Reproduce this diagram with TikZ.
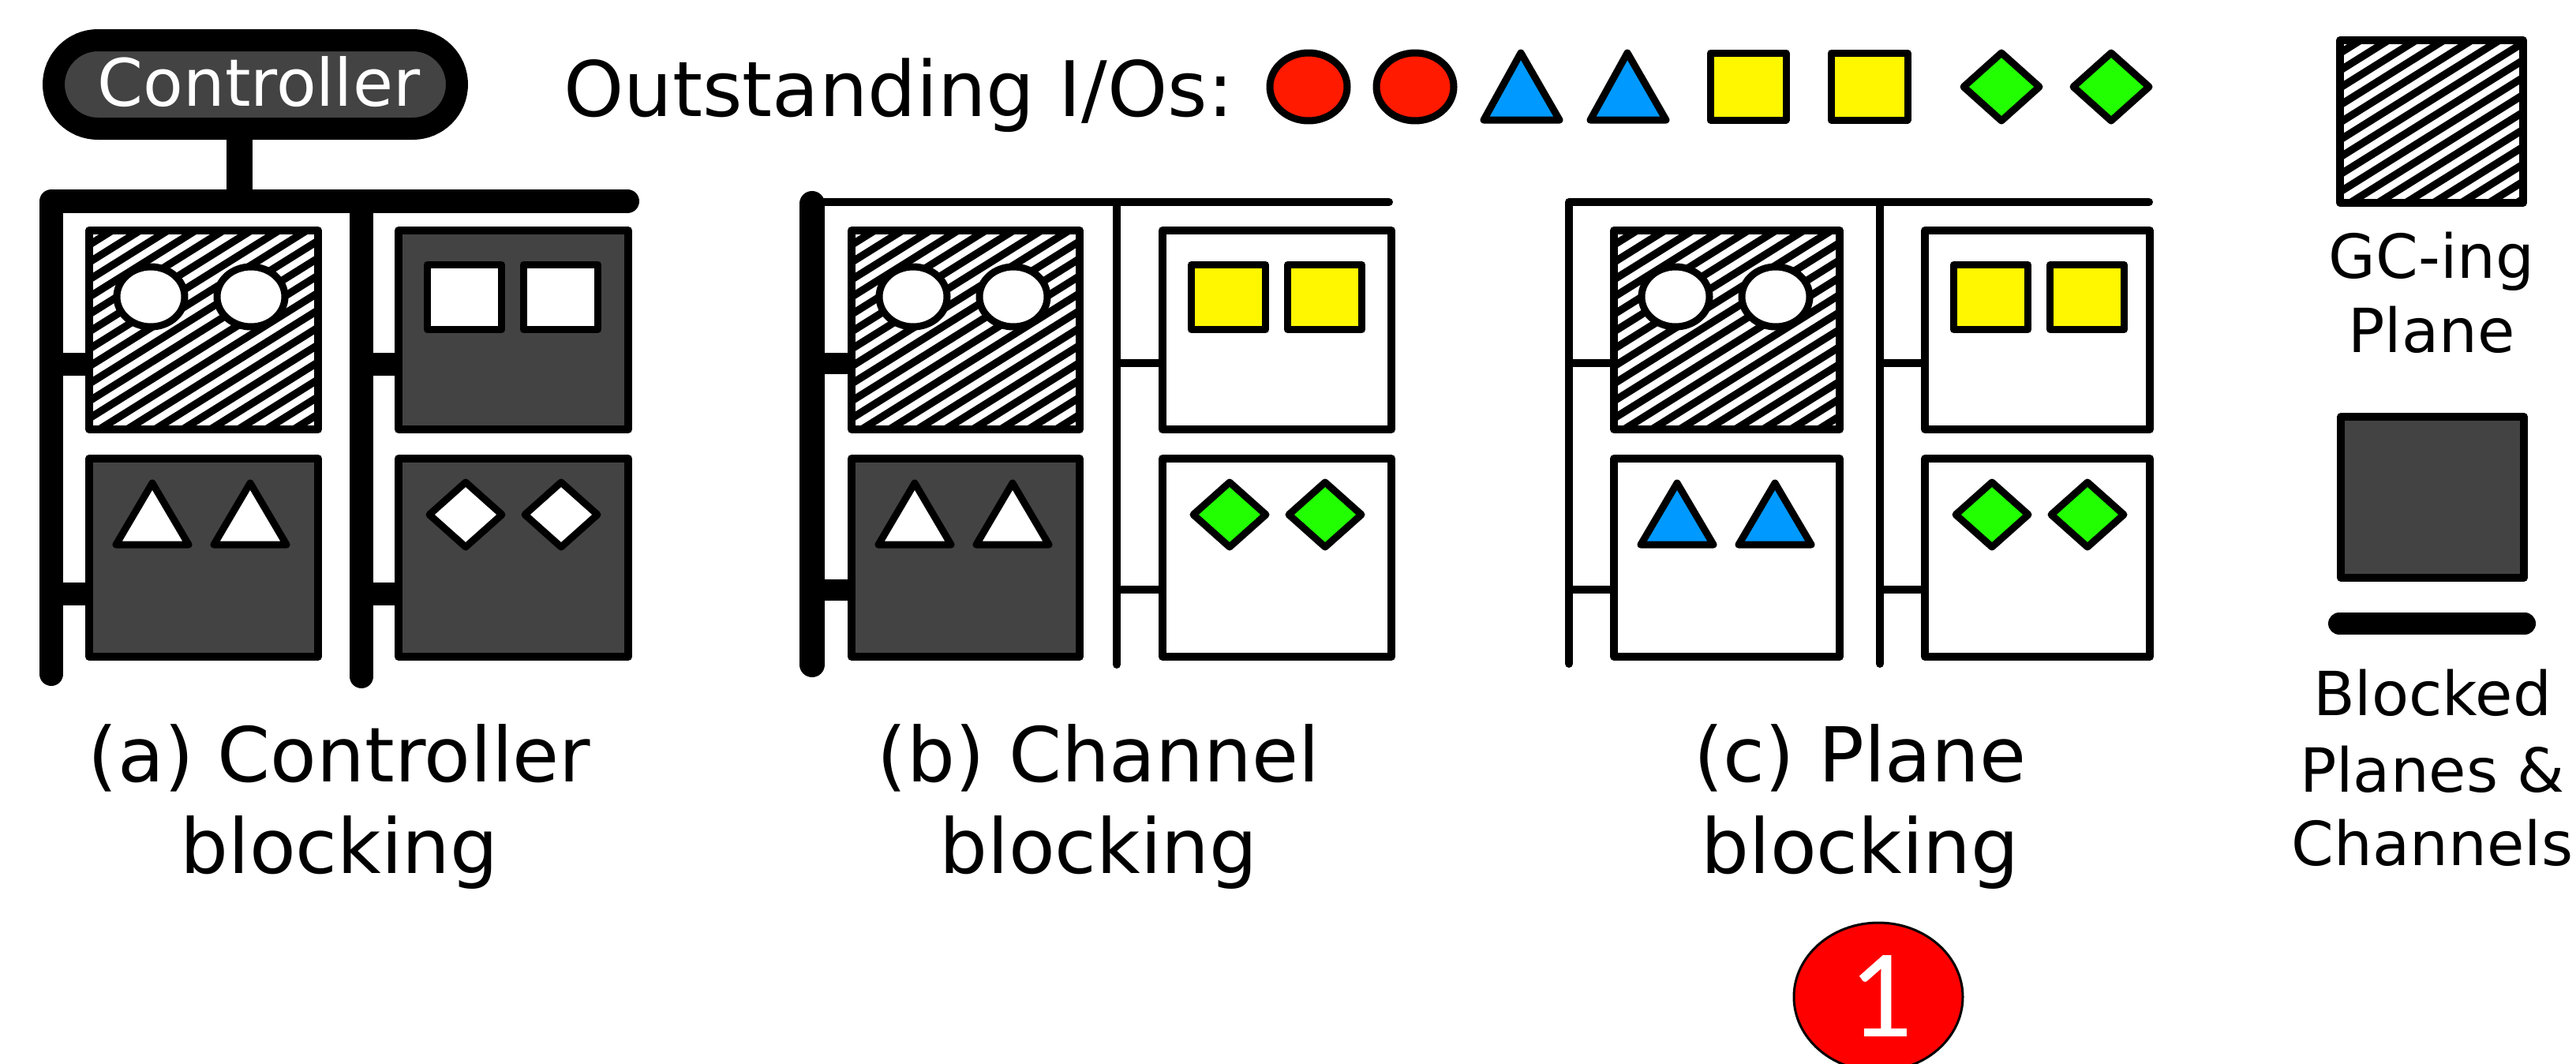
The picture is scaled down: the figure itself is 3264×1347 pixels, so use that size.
\documentclass[tikz,border=0pt]{standalone}
\usepackage{fontspec}
\setmainfont{DejaVu Sans}
\newfontfamily\badgefont{Carlito}
\definecolor{plgray}{HTML}{434343}
\definecolor{iored}{HTML}{FF1A00}
\definecolor{ioblue}{HTML}{0099FF}
\definecolor{ioyellow}{HTML}{FFF700}
\definecolor{iogreen}{HTML}{22FF00}
\definecolor{badgered}{HTML}{FF0000}
\tikzset{
  boxline/.style={line width=10pt, line join=round, draw=black},
  icon/.style={line width=9pt, line join=round, draw=black},
  thickbus/.style={line width=30pt, line cap=round, line join=round},
  thinbus/.style={line width=10pt, line cap=round, line join=round},
  captxt/.style={font=\fontsize{96}{116}\selectfont, anchor=base, inner sep=0pt},
  legtxt/.style={font=\fontsize{77}{94}\selectfont, anchor=base, inner sep=0pt},
}
\newcommand\hatchrect[4]{%
  \begin{scope}
    \clip (#1,#2) rectangle (#3,#4);
    \fill[white] (#1,#2) rectangle (#3,#4);
    \foreach \k in {-16,...,10}{\draw[line width=9.5pt] ({#1+\k*35.2},{#4+8}) -- ++(700,-437);}
  \end{scope}
  \draw[boxline] (#1,#2) rectangle (#3,#4);}
\newcommand\plainrect[5]{\draw[boxline, fill=#5] (#1,#2) rectangle (#3,#4);}
\newcommand\twocircles[2]{%
  \draw[icon, fill=#2] ({#1+83},376) ellipse [x radius=43pt, y radius=38pt];
  \draw[icon, fill=#2] ({#1+210},376) ellipse [x radius=43pt, y radius=38pt];}
\newcommand\twosquares[2]{%
  \draw[icon, fill=#2] ({#1+41.5},335.5) rectangle ({#1+135.5},417.5);
  \draw[icon, fill=#2] ({#1+163.5},335.5) rectangle ({#1+257.5},417.5);}
\newcommand\twotris[2]{%
  \draw[icon, fill=#2] ({#1+85},612) -- ({#1+131},690) -- ({#1+39},690) -- cycle;
  \draw[icon, fill=#2] ({#1+209},612) -- ({#1+255},690) -- ({#1+163},690) -- cycle;}
\newcommand\twodiamonds[2]{%
  \draw[icon, fill=#2] ({#1+90},611) -- ({#1+136},652) -- ({#1+90},693) -- ({#1+44},652) -- cycle;
  \draw[icon, fill=#2] ({#1+211},611) -- ({#1+257},652) -- ({#1+211},693) -- ({#1+165},652) -- cycle;}
\begin{document}
\begin{tikzpicture}[x=1pt, y=-1pt]
\useasboundingbox[fill=white] (0,0) rectangle (3264,1347);

% ---------------- (a) Controller blocking ----------------
\draw[line width=33pt] (303,150) -- (303,256);
\draw[line width=28pt, fill=plgray, rounded corners=56pt] (68,51) rectangle (579,163);
\node[font=\fontsize{83}{90}\selectfont, text=white, anchor=base, inner sep=0pt] (ctrl) at (328,134) {Controller};
\draw[thickbus] (65,854) -- (65,255) -- (795,255);
\draw[thickbus] (458,255) -- (458,857);
\draw[line width=29pt] (65,461) -- (113,461);
\draw[line width=29pt] (65,752) -- (113,752);
\draw[line width=29pt] (458,461) -- (505,461);
\draw[line width=29pt] (458,752) -- (505,752);
\hatchrect{113}{292}{403}{544}
\plainrect{505}{292}{796}{544}{plgray}
\plainrect{113}{581}{403}{832}{plgray}
\plainrect{505}{581}{796}{832}{plgray}
\twocircles{108}{white}
\twosquares{500}{white}
\twotris{108}{white}
\twodiamonds{500}{white}

% ---------------- (b) Channel blocking ----------------
\draw[thinbus] (1029,256) -- (1760,256);
\draw[thinbus] (1415,256) -- (1415,842);
\draw[line width=32pt, line cap=round] (1029,258) -- (1029,842);
\draw[line width=27pt] (1029,460) -- (1079,460);
\draw[line width=27pt] (1029,747) -- (1079,747);
\draw[line width=10pt] (1415,460) -- (1473,460);
\draw[line width=10pt] (1415,747) -- (1473,747);
\hatchrect{1079}{292}{1368}{544}
\plainrect{1473}{292}{1763}{544}{white}
\plainrect{1079}{581}{1368}{832}{plgray}
\plainrect{1473}{581}{1763}{832}{white}
\twocircles{1074}{white}
\twosquares{1468}{ioyellow}
\twotris{1074}{white}
\twodiamonds{1468}{iogreen}

% ---------------- (c) Plane blocking ----------------
\draw[thinbus] (1988,841) -- (1988,256) -- (2723,256);
\draw[thinbus] (2382,256) -- (2382,841);
\draw[line width=10pt] (1988,460) -- (2045,460);
\draw[line width=10pt] (1988,747) -- (2045,747);
\draw[line width=10pt] (2382,460) -- (2439,460);
\draw[line width=10pt] (2382,747) -- (2439,747);
\hatchrect{2045}{292}{2331}{544}
\plainrect{2439}{292}{2724}{544}{white}
\plainrect{2045}{581}{2331}{832}{white}
\plainrect{2439}{581}{2724}{832}{white}
\twocircles{2040}{white}
\twosquares{2434}{ioyellow}
\twotris{2040}{ioblue}
\twodiamonds{2434}{iogreen}

% ---------------- captions ----------------
\node[captxt] (capa1) at (430,990) {(a) Controller};
\node[captxt] (capa2) at (430,1106) {blocking};
\node[captxt] (capb1) at (1392,990) {(b) Channel};
\node[captxt] (capb2) at (1392,1106) {blocking};
\node[captxt] (capc1) at (2357,990) {(c) Plane};
\node[captxt] (capc2) at (2357,1106) {blocking};

% ---------------- outstanding I/Os ----------------
\node[font=\fontsize{97}{116}\selectfont, anchor=base west, inner sep=0pt] (outst) at (714,147) {Outstanding I/Os:};
\draw[icon, fill=iored] (1658,110) ellipse [x radius=49pt, y radius=43pt];
\draw[icon, fill=iored] (1793,110) ellipse [x radius=49pt, y radius=43pt];
\draw[icon, fill=ioblue] (1927,67) -- (1976,152) -- (1880,152) -- cycle;
\draw[icon, fill=ioblue] (2062,67) -- (2111,152) -- (2015,152) -- cycle;
\draw[icon, fill=ioyellow] (2167,67) rectangle (2263,152);
\draw[icon, fill=ioyellow] (2320,67) rectangle (2417,152);
\draw[icon, fill=iogreen] (2536,67) -- (2584,110) -- (2536,153) -- (2488,110) -- cycle;
\draw[icon, fill=iogreen] (2675,67) -- (2723,110) -- (2675,153) -- (2627,110) -- cycle;

% ---------------- legend ----------------
\hatchrect{2965}{51}{3197}{257}
\node[legtxt] (lg1) at (3081,352) {GC-ing};
\node[legtxt] (lg2) at (3081,446) {Plane};
\plainrect{2966}{528}{3198}{732}{plgray}
\draw[line width=28pt, line cap=round] (2964,790) -- (3199,790);
\node[legtxt] (lb1) at (3082,906) {Blocked};
\node[legtxt] (lb2) at (3082,1003) {Planes \&};
\node[legtxt] (lb3) at (3082,1096) {Channels};

% ---------------- badge ----------------
\draw[line width=3pt, fill=badgered] (2380,1263) ellipse [x radius=107pt, y radius=94pt];
\node[text=white, font=\badgefont\fontsize{160}{160}\selectfont, inner sep=0pt] (badge) at (2383,1262) {1};
\end{tikzpicture}
\end{document}
